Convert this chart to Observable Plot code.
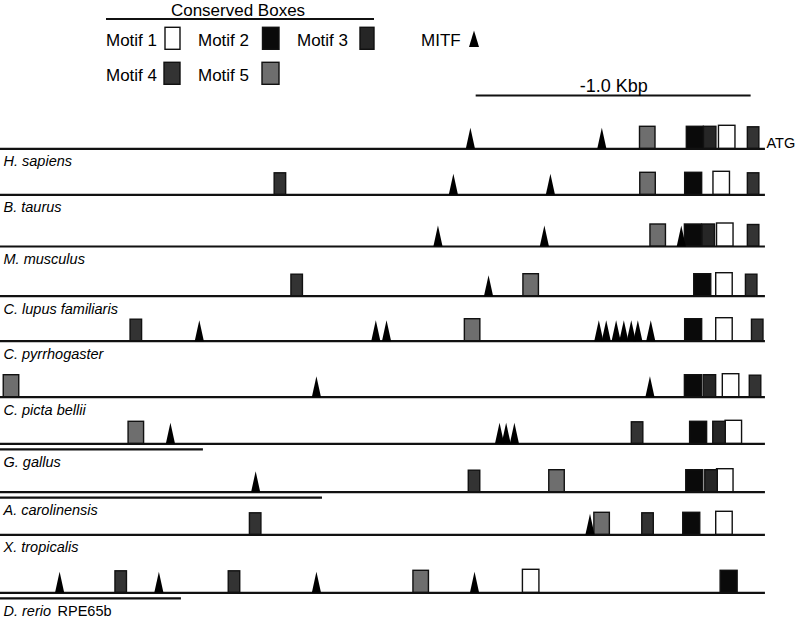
<!DOCTYPE html>
<html><head><meta charset="utf-8">
<script src="https://cdn.jsdelivr.net/npm/d3@7"></script>
<script src="https://cdn.jsdelivr.net/npm/@observablehq/plot@0.6"></script>
<style>
html,body{margin:0;padding:0;background:#fff;}
#wrap{position:relative;width:796px;height:620px;}
#wrap svg{position:absolute;left:0;top:0;}
</style></head><body><div id="wrap"></div>
<script>
// ---------- data (positions in bp relative to ATG, negative = upstream) ----------
const species = ["H. sapiens","B. taurus","M. musculus","C. lupus familiaris","C. pyrrhogaster",
                 "C. picta bellii","G. gallus","A. carolinensis","X. tropicalis","D. rerio"];
const speciesSuffix = ["","","","","","","","","","RPE65b"];

// [species index, box centre (bp)]
const motif1 = [[0,-139],[1,-159],[2,-146],[3,-149],[4,-149],[5,-125],[6,-115],[7,-146],[8,-149],[9,-852]];
const motif2 = [[0,-255],[1,-261],[2,-262],[3,-228],[4,-261],[5,-262],[6,-243],[7,-257],[8,-268],[9,-132]];
const motif3 = [[0,-201],[2,-206],[5,-202],[6,-167],[7,-196]];
const motif4 = [[0,-43],[1,-1764],[1,-43],[2,-43],[3,-1703],[3,-50],[4,-2288],[4,-28],[5,-36],
                [6,-465],[7,-1058],[8,-1854],[8,-427],[9,-2343],[9,-1931]];
const motif5 = [[0,-428],[1,-427],[2,-390],[3,-852],[4,-1065],[5,-2742],[6,-2288],[7,-758],[8,-594],[9,-1252]];
// MITF sites: [species index, position (bp)]
const mitf = [[0,-1073],[0,-595],[1,-1135],[1,-782],[2,-1191],[2,-804],[2,-306],[3,-1007],
              [4,-2059],[4,-1417],[4,-1378],[4,-606],[4,-579],[4,-543],[4,-515],[4,-488],[4,-464],[4,-417],
              [5,-1633],[5,-420],[6,-2164],[6,-967],[6,-943],[6,-913],[7,-1854],[8,-638],
              [9,-2567],[9,-2206],[9,-1633],[9,-1058]];
// rows with a shorter, underlined stretch of sequence
const truncatedRows = [6,7,9];
const truncatedEnd = [-2044,-1611,-2124];
const seqStart = -2782;      // left end of drawn sequence
const atgPos = 0;
const scaleBarStart = -1052;
const scaleBarBp = 1000;
const scaleBarLabel = "-1.0 Kbp";

// ---------- styles / layout ----------
const FONT = '"Liberation Sans", Arial, Helvetica, sans-serif';
const rowBaselines = [148.3,194.3,246,295.7,340.7,396.7,443.3,491.7,534.3,592.3];
const motifs = [
  {name:"Motif 1", data:motif1, fill:"#ffffff", w:16.5, h:23},
  {name:"Motif 2", data:motif2, fill:"#0a0a0a", w:17,   h:22},
  {name:"Motif 3", data:motif3, fill:"#262626", w:12.5, h:22},
  {name:"Motif 4", data:motif4, fill:"#333333", w:11.5, h:21.5},
  {name:"Motif 5", data:motif5, fill:"#6e6e6e", w:15.5, h:22}
];
const tallTriangle = {draw(ctx){ ctx.moveTo(0,-21); ctx.lineTo(4.6,0); ctx.lineTo(-4.6,0); ctx.closePath(); }};

const rows = species.map((name,i)=>({row:i, name, suffix:speciesSuffix[i], trunc: truncatedRows.includes(i)}));
const truncated = truncatedRows.map((row,k)=>({row, end:truncatedEnd[k]}));
const toObj = arr => arr.map(([row,pos])=>({row,pos}));

const marks = [
  Plot.ruleY(rows, {y:"row", x1:()=>seqStart, x2:()=>atgPos, stroke:"#111", strokeWidth:2.2}),
  Plot.ruleY(truncated, {y:"row", x1:()=>seqStart, x2:"end", dy:5.5, stroke:"#111", strokeWidth:2.2}),
  ...motifs.map(m => Plot.rect(toObj(m.data), {
      x1:"pos", x2:"pos", y1:"row", y2:"row",
      insetLeft:-m.w/2, insetRight:-m.w/2, insetTop:-m.h, insetBottom:0,
      fill:m.fill, stroke:"#111", strokeWidth:1.4})),
  Plot.dot(toObj(mitf), {x:"pos", y:"row", symbol:tallTriangle, fill:"#000", stroke:"none"}),
  Plot.text(rows.filter(d=>!d.trunc), {y:"row", text:"name", frameAnchor:"left", dx:3, dy:17.5,
      textAnchor:"start", lineAnchor:"bottom", fontStyle:"italic", fontSize:14.5}),
  Plot.text(rows.filter(d=>d.trunc), {y:"row", text:"name", frameAnchor:"left", dx:3, dy:23,
      textAnchor:"start", lineAnchor:"bottom", fontStyle:"italic", fontSize:14.5}),
  Plot.text(rows.filter(d=>d.suffix), {y:"row", text:"suffix", frameAnchor:"left", dx:57, dy:23,
      textAnchor:"start", lineAnchor:"bottom", fontSize:14.5}),
  Plot.text([{row:0,pos:atgPos,label:"ATG"}], {x:"pos", y:"row", text:"label", dx:1, dy:-0.5,
      textAnchor:"start", lineAnchor:"bottom", fontSize:14.5}),
  Plot.ruleY([{row:0}], {y:"row", x1:()=>scaleBarStart, x2:()=>scaleBarStart+scaleBarBp, dy:-53.3,
      stroke:"#111", strokeWidth:2}),
  Plot.text([{row:0, pos:scaleBarStart+scaleBarBp/2, label:scaleBarLabel}], {x:"pos", y:"row", text:"label",
      dy:-56.8, lineAnchor:"bottom", textAnchor:"middle", fontSize:18})
];

const chart = Plot.plot({
  width:796, height:620, margin:0,
  x:{domain:[-2782,113], axis:null},
  // each species row index is placed at its track baseline
  y:{transform:i => rowBaselines[i], domain:[0,620], range:[0,620], axis:null},
  style:{fontFamily:FONT, background:"#fff", color:"#000"},
  marks
});
document.getElementById("wrap").appendChild(chart);

// ---------- legend ----------
const leg = d3.select("#wrap").append("svg").attr("width",796).attr("height",90)
  .style("font-family",FONT).style("font-size","17px");
leg.append("text").attr("x",238).attr("y",15.6).attr("text-anchor","middle").style("font-size","17px").text("Conserved Boxes");
leg.append("line").attr("x1",106).attr("x2",374).attr("y1",19).attr("y2",19)
  .attr("stroke","#111").attr("stroke-width",2);
const legendPos = [
  {tx:106, bx:165, bw:15,  row:0},
  {tx:198, bx:262.5, bw:16.5, row:0},
  {tx:297, bx:360, bw:14,  row:0},
  {tx:106, bx:164, bw:16,  row:1},
  {tx:198, bx:262, bw:17,  row:1}
];
motifs.forEach((m,k)=>{
  const p = legendPos[k];
  const base = p.row ? 80.5 : 45.5;
  const top = p.row ? 62.3 : 27.3;
  leg.append("text").attr("x",p.tx).attr("y",base).text(m.name);
  leg.append("rect").attr("x",p.bx).attr("y",top).attr("width",p.bw).attr("height",22)
    .attr("fill",m.fill).attr("stroke","#111").attr("stroke-width",1.4);
});
leg.append("text").attr("x",421).attr("y",45.5).text("MITF");
leg.append("path").attr("d","M474,30.5L479,47L469,47Z").attr("fill","#000");
</script></body></html>
